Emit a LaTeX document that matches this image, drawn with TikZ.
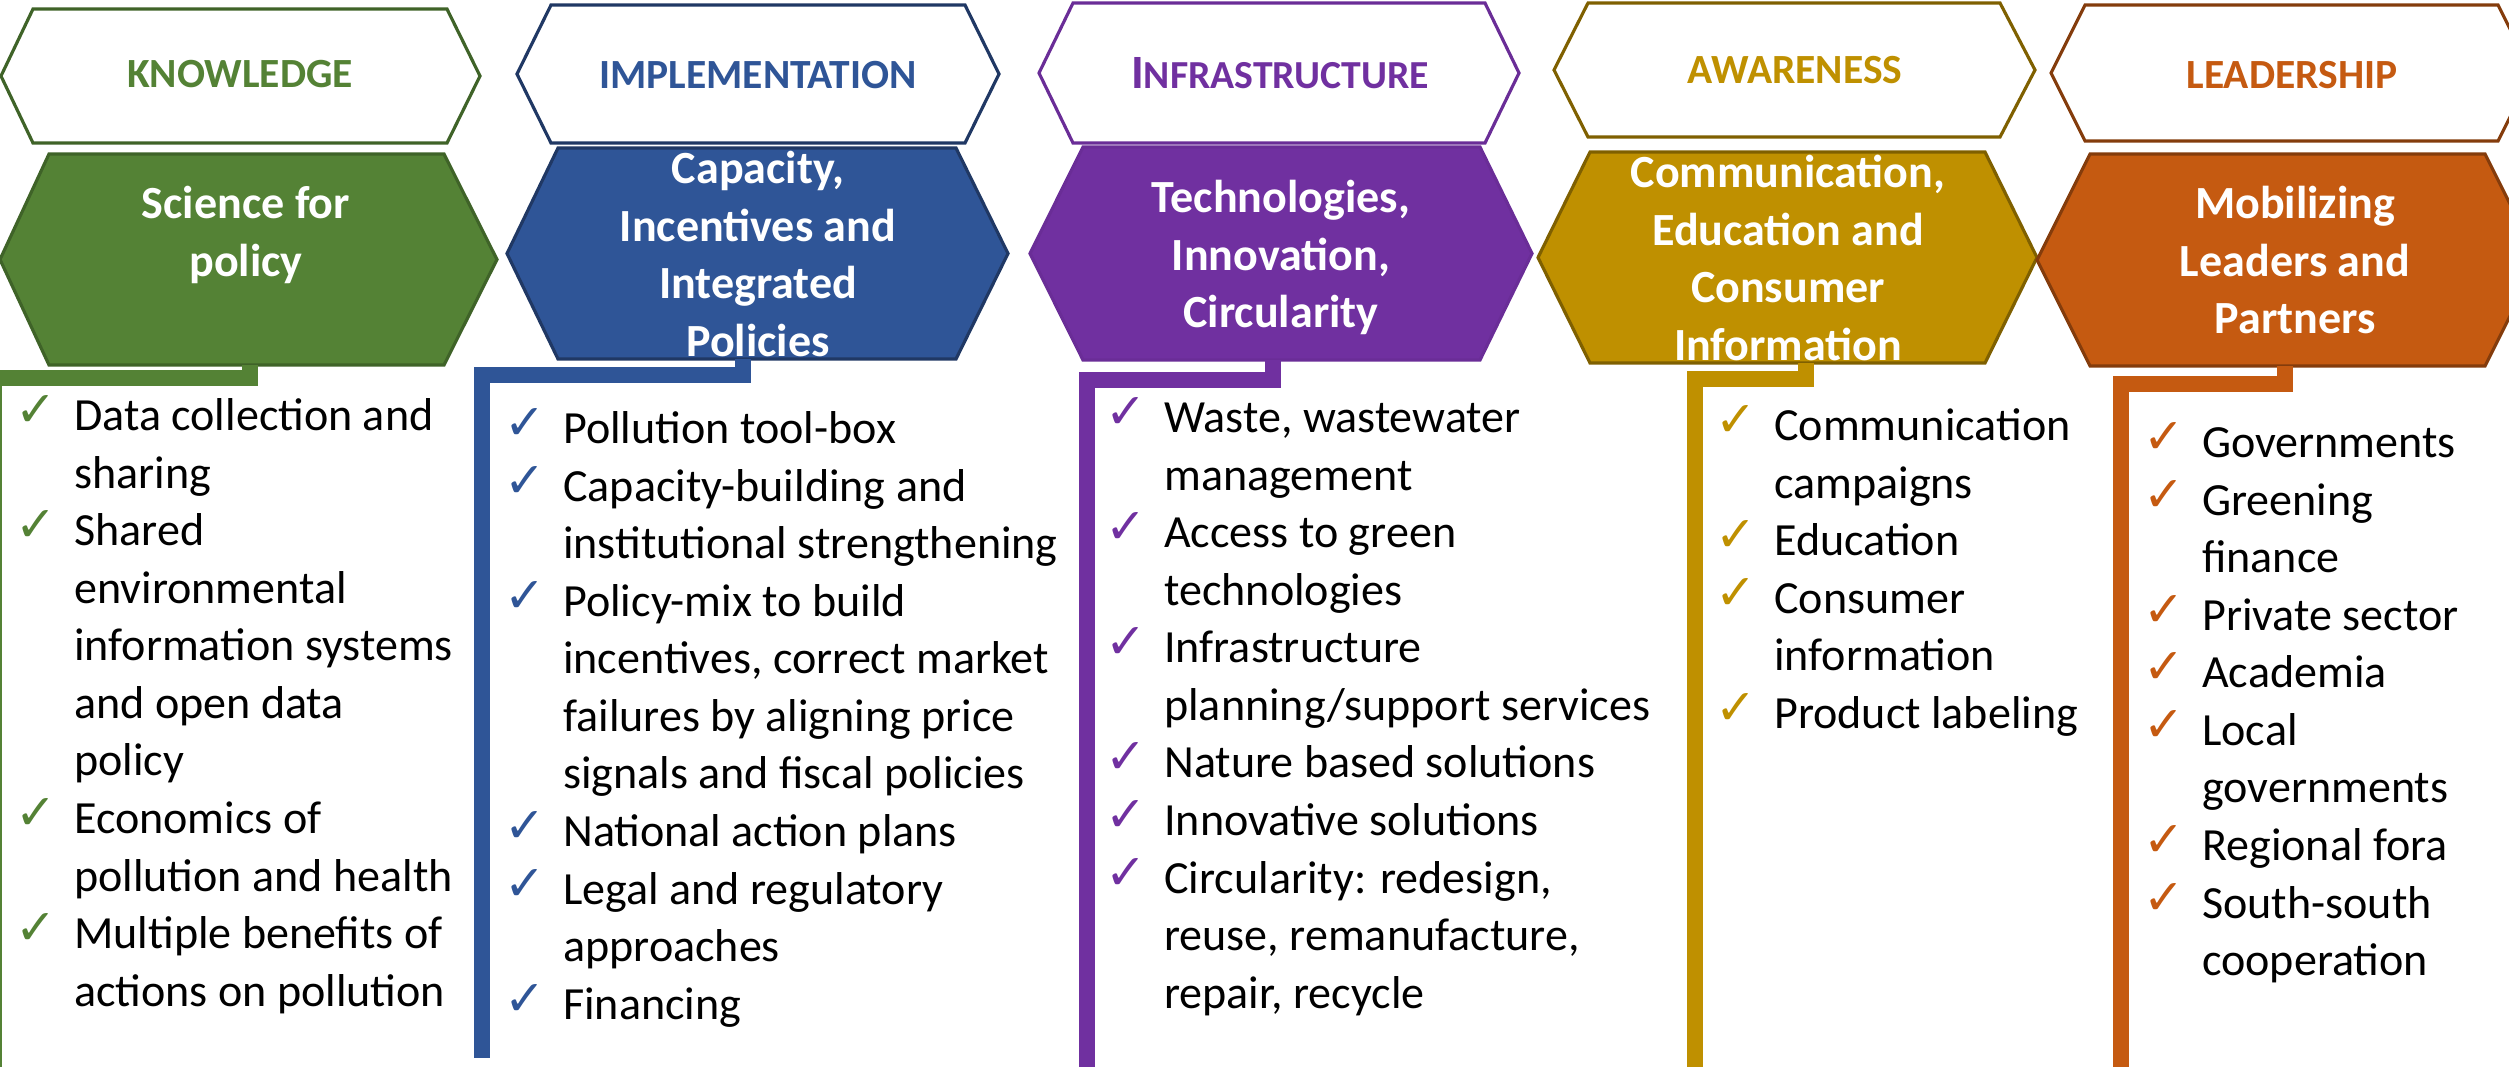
\documentclass[tikz,border=0pt]{standalone}
\usepackage{fontspec}
\setmainfont{Carlito}
\newfontfamily\tickfont{DejaVu Sans}
\usepackage{tikz}

\definecolor{knowgreen}{HTML}{548235}
\definecolor{knowdark}{HTML}{3F6328}
\definecolor{implblue}{HTML}{2F5597}
\definecolor{impldark}{HTML}{203864}
\definecolor{infrapurple}{HTML}{7030A0}
\definecolor{infradark}{HTML}{6A2D97}
\definecolor{awaregold}{HTML}{BF9000}
\definecolor{awaredark}{HTML}{7F6000}
\definecolor{leadorange}{HTML}{C55A11}
\definecolor{leaddark}{HTML}{843C0C}
\colorlet{tickcol}{black}

\newcommand{\chk}{\makebox[0.585cm][l]{\raisebox{0.04cm}{\textcolor{tickcol}{\tickfont\fontsize{14pt}{14pt}\selectfont ✓}}}}
\newcommand{\listgap}{\hspace*{0.585cm}}
\newcommand{\firstline}{\rule{0pt}{1em}}

\begin{document}
\begin{tikzpicture}[x=0.01cm, y=-0.01cm,
    outline/.style={fill=white, line width=0.9pt},
    shade/.style={line width=0.9pt},
    head/.style={font=\bfseries\fontsize{11.8pt}{13pt}\selectfont, anchor=base, inner sep=0pt},
    title/.style={font=\bfseries\fontsize{13.1pt}{16.36pt}\selectfont, text=white, align=center, anchor=north, inner sep=0pt},
    list/.style={font=\fontsize{13.1pt}{16.36pt}\selectfont, align=left, anchor=north west, inner sep=0pt,
        execute at begin node={\colorlet{tickcol}{#1}}},
    bracket/.style={line width=4.6pt}]
    \useasboundingbox (0,0) rectangle (2509,1066);

    % knowledge
    \filldraw[outline, draw=knowdark] (1,76) -- (33,9) -- (447,9) -- (480,76) -- (447,143) -- (33,143) -- cycle;
    \filldraw[shade, fill=knowgreen, draw=knowdark] (0,259.5) -- (49,154) -- (444,154) -- (497,259.5) -- (444,365) -- (49,365) -- cycle;
    \node[head, text=knowgreen] (knowhead) at (240,87) {KNOWLEDGE};
    \node[title] (knowtitle) at (246,172) {\firstline Science for\\policy};
    \coordinate (knowfoot) at (250,365);
    \coordinate (knowend) at (-6,1075);
    \draw[bracket, knowgreen] (knowfoot) -- ++(0,13) -| (knowend);
    \node[list=knowgreen] (knowlist) at (15,384) {\firstline\chk Data collection and\\
        \listgap sharing\\
        \chk Shared\\
        \listgap environmental\\
        \listgap information systems\\
        \listgap and open data\\
        \listgap policy\\
        \chk Economics of\\
        \listgap pollution and health\\
        \chk Multiple benefits of\\
        \listgap actions on pollution};

    % implementation
    \filldraw[outline, draw=impldark] (517,74) -- (551,5) -- (965,5) -- (999,74) -- (965,143) -- (551,143) -- cycle;
    \filldraw[shade, fill=implblue, draw=impldark] (507,253.5) -- (558,148) -- (956,148) -- (1008,253.5) -- (956,359) -- (558,359) -- cycle;
    \node[head, text=implblue] (implhead) at (758,88) {IMPLEMENTATION};
    \node[title] (impltitle) at (758,137) {\firstline Capacity,\\Incentives and\\Integrated\\Policies};
    \coordinate (implfoot) at (743,359);
    \coordinate (implend) at (482,1058);
    \draw[bracket, implblue] (implfoot) -- ++(0,16) -| (implend);
    \node[list=implblue] (impllist) at (504,397) {\firstline\chk Pollution tool-box\\
        \chk Capacity-building and\\
        \listgap institutional strengthening\\
        \chk Policy-mix to build\\
        \listgap incentives, correct market\\
        \listgap failures by aligning price\\
        \listgap signals and fiscal policies\\
        \chk National action plans\\
        \chk Legal and regulatory\\
        \listgap approaches\\
        \chk Financing};

    % infrastructure
    \filldraw[outline, draw=infradark] (1039,73) -- (1073,3) -- (1485,3) -- (1519,73) -- (1485,143) -- (1073,143) -- cycle;
    \filldraw[shade, fill=infrapurple, draw=infradark] (1030,253.5) -- (1083,147) -- (1480,147) -- (1532,253.5) -- (1480,360) -- (1083,360) -- cycle;
    \node[head, text=infrapurple] (infrahead) at (1280,88) {{\fontsize{13.6pt}{13pt}\selectfont I}{\fontsize{11.3pt}{13pt}\selectfont NFRASTRUCTURE}};
    \node[title] (infratitle) at (1281,166) {\firstline Technologies,\\Innovation,\\Circularity};
    \coordinate (infrafoot) at (1273,360);
    \coordinate (infraend) at (1087,1075);
    \draw[bracket, infrapurple] (infrafoot) -- ++(0,20) -| (infraend);
    \node[list=infrapurple] (infralist) at (1105,386) {\firstline\chk Waste, wastewater\\
        \listgap management\\
        \chk Access to green\\
        \listgap technologies\\
        \chk Infrastructure\\
        \listgap planning/support services\\
        \chk Nature based solutions\\
        \chk Innovative solutions\\
        \chk Circularity: redesign,\\
        \listgap reuse, remanufacture,\\
        \listgap repair, recycle};

    % awareness
    \filldraw[outline, draw=awaredark] (1554,70) -- (1588,3) -- (2000,3) -- (2035,70) -- (2000,137) -- (1588,137) -- cycle;
    \filldraw[shade, fill=awaregold, draw=awaredark] (1538,257.5) -- (1590,152) -- (1985,152) -- (2037,257.5) -- (1985,363) -- (1590,363) -- cycle;
    \node[head, text=awaregold] (awarehead) at (1795,83) {AWARENESS};
    \node[title] (awaretitle) at (1788,141) {\firstline Communication,\\Education and\\Consumer\\Information};
    \coordinate (awarefoot) at (1806,363);
    \coordinate (awareend) at (1695,1075);
    \draw[bracket, awaregold] (awarefoot) -- ++(0,16) -| (awareend);
    \node[list=awaregold] (awarelist) at (1715,394) {\firstline\chk Communication\\
        \listgap campaigns\\
        \chk Education\\
        \chk Consumer\\
        \listgap information\\
        \chk Product labeling};

    % leadership
    \filldraw[outline, draw=leaddark] (2051,73) -- (2085,5) -- (2498,5) -- (2532,73) -- (2498,141) -- (2085,141) -- cycle;
    \filldraw[shade, fill=leadorange, draw=leaddark] (2037,260) -- (2090,154) -- (2485,154) -- (2538,260) -- (2485,366) -- (2090,366) -- cycle;
    \node[head, text=leadorange] (leadhead) at (2292,88) {LEADERSHIP};
    \node[title] (leadtitle) at (2295,172) {\firstline Mobilizing\\Leaders and\\Partners};
    \coordinate (leadfoot) at (2285,366);
    \coordinate (leadend) at (2121,1075);
    \draw[bracket, leadorange] (leadfoot) -- ++(0,18) -| (leadend);
    \node[list=leadorange] (leadlist) at (2143,411) {\firstline\chk Governments\\
        \chk Greening\\
        \listgap finance\\
        \chk Private sector\\
        \chk Academia\\
        \chk Local\\
        \listgap governments\\
        \chk Regional fora\\
        \chk South-south\\
        \listgap cooperation};

\end{tikzpicture}
\end{document}
